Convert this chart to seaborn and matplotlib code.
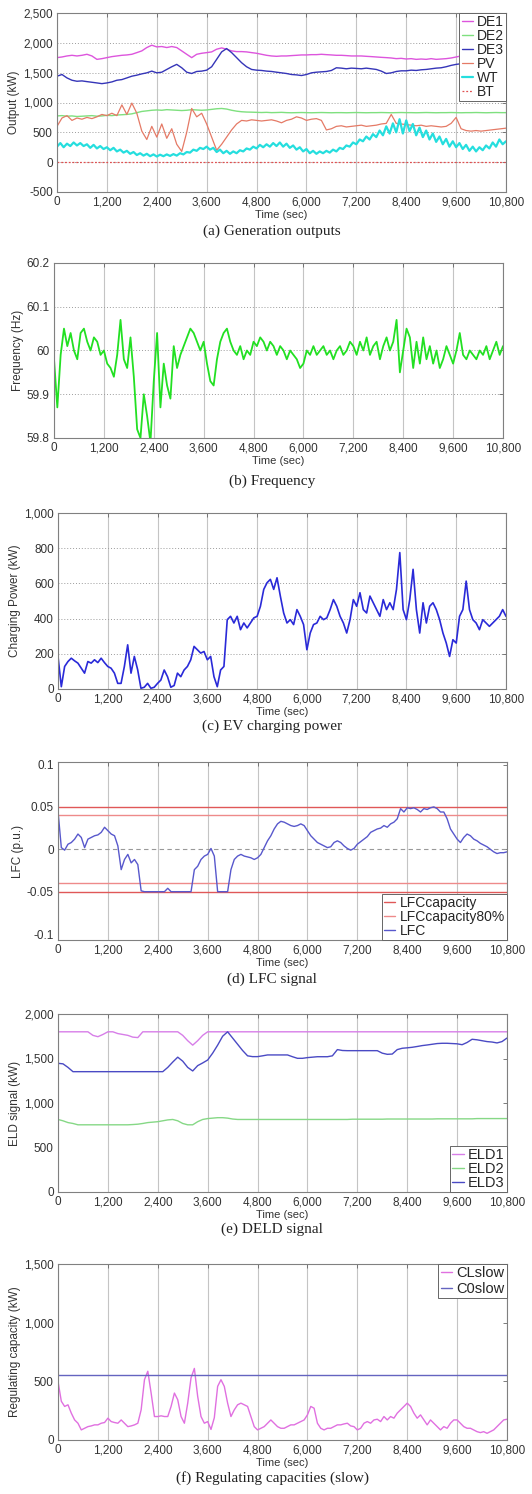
import numpy as np
import pandas as pd
import matplotlib
matplotlib.use("Agg")
import matplotlib.pyplot as plt
from matplotlib.ticker import FuncFormatter
import seaborn as sns

sns.set_style("white")
plt.rcParams["font.family"] = ["Liberation Sans", "DejaVu Sans"]

W, H = 532, 1494

# time grids (sec)
t80 = np.arange(0, 10801, 80)
t120 = np.arange(0, 10801, 120)

# (a) generation outputs, kW
de1 = [1752, 1763, 1780, 1791, 1780, 1791, 1808, 1780, 1723, 1735,
       1752, 1769, 1780, 1791, 1797, 1808, 1836, 1865, 1921, 1960,
       1932, 1938, 1921, 1938, 1921, 1865, 1808, 1752, 1808, 1825,
       1836, 1848, 1893, 1915, 1893, 1865, 1853, 1853, 1848, 1836,
       1825, 1808, 1791, 1780, 1774, 1780, 1780, 1786, 1791, 1797,
       1797, 1802, 1802, 1808, 1802, 1797, 1791, 1791, 1786, 1780,
       1780, 1780, 1774, 1769, 1763, 1757, 1752, 1746, 1735, 1740,
       1729, 1735, 1723, 1729, 1723, 1735, 1723, 1729, 1735, 1746,
       1763, 1780, 1780, 1791, 1791, 1780, 1786, 1791, 1797, 1791, 1791]
de2 = [775, 780, 770, 775, 765, 770, 775, 780, 770, 775, 785, 780, 790, 795, 800, 810, 830,
       850, 860, 870, 875, 870, 880, 875, 870, 865, 870, 880, 875, 870, 875, 885, 895, 900,
       890, 870, 855, 845, 840, 838, 835, 832, 835, 830, 832, 835, 830, 828, 830, 832, 830,
       828, 830, 832, 830, 828, 830, 830, 828, 830, 832, 830, 828, 830, 830, 832, 830, 828,
       830, 832, 830, 830, 828, 830, 832, 830, 828, 830, 830, 832, 830, 828, 830, 830, 832,
       830, 828, 830, 832, 830, 830]
de3 = [1441, 1469, 1412, 1373, 1356, 1362, 1350, 1339, 1328, 1316,
       1328, 1345, 1373, 1384, 1412, 1441, 1458, 1480, 1497, 1526,
       1497, 1508, 1554, 1599, 1639, 1582, 1508, 1486, 1520, 1526,
       1542, 1599, 1723, 1848, 1904, 1836, 1752, 1667, 1599, 1554,
       1542, 1537, 1526, 1520, 1508, 1497, 1486, 1469, 1463, 1452,
       1469, 1497, 1508, 1514, 1520, 1537, 1582, 1576, 1565, 1576,
       1571, 1565, 1576, 1565, 1554, 1526, 1486, 1497, 1520, 1531,
       1531, 1542, 1537, 1548, 1554, 1565, 1576, 1582, 1599, 1622,
       1639, 1650, 1656, 1667, 1667, 1678, 1667, 1678, 1689, 1678, 1695]
pv = [600, 740, 780, 700, 740, 720, 750, 730, 760, 800,
      780, 820, 780, 960, 800, 990, 820, 520, 380, 600,
      420, 640, 400, 560, 300, 180, 500, 900, 760, 820,
      640, 420, 200, 300, 420, 540, 640, 700, 690, 710,
      700, 690, 700, 710, 690, 660, 700, 720, 760, 740,
      700, 720, 730, 700, 540, 560, 600, 610, 590, 600,
      610, 620, 600, 610, 620, 640, 650, 800, 650, 640,
      630, 620, 610, 620, 600, 610, 600, 590, 600, 650,
      750, 560, 530, 520, 530, 520, 530, 540, 550, 560, 570]
wt = [260, 320, 250, 310, 270, 330, 280, 320,
      270, 300, 240, 290, 230, 270, 220, 250,
      200, 240, 180, 210, 160, 190, 140, 170,
      120, 150, 110, 140, 100, 130, 95, 125,
      100, 130, 105, 135, 110, 150, 130, 170,
      160, 210, 190, 240, 220, 260, 210, 240,
      170, 210, 150, 190, 140, 180, 150, 200,
      180, 230, 210, 260, 230, 290, 250, 300,
      260, 320, 270, 330, 260, 310, 240, 280,
      210, 250, 180, 220, 150, 190, 140, 180,
      150, 190, 160, 210, 180, 240, 220, 280,
      260, 330, 300, 380, 350, 430, 380, 470,
      420, 530, 450, 600, 480, 650, 500, 720,
      480, 700, 520, 640, 450, 580, 420, 530,
      380, 480, 340, 430, 300, 390, 260, 350,
      250, 320, 220, 290, 190, 260, 180, 250,
      200, 280, 230, 330, 260, 380, 300, 350]
bt_t = [0, 10800]
bt = [0, 0]

# (b) frequency, Hz
freq = [59.98, 59.87, 59.99, 60.05, 60.01, 60.04, 60.00, 59.98, 60.04, 60.05,
        60.02, 60.00, 60.03, 60.02, 59.99, 60.00, 59.97, 59.96, 59.94, 59.99,
        60.07, 59.98, 59.96, 60.03, 59.94, 59.82, 59.80, 59.90, 59.85, 59.79,
        59.93, 60.04, 59.87, 59.97, 59.92, 59.89, 60.01, 59.96, 59.99, 60.01,
        60.03, 60.05, 60.04, 60.02, 60.00, 60.02, 59.97, 59.93, 59.92, 59.98,
        60.02, 60.04, 60.05, 60.02, 60.00, 59.99, 60.01, 59.98, 60.00, 59.99,
        60.02, 60.01, 60.03, 60.02, 60.00, 60.02, 60.01, 59.99, 60.01, 60.00,
        59.98, 60.00, 59.99, 59.98, 59.96, 59.97, 60.00, 59.99, 60.01, 59.99,
        60.00, 60.01, 59.99, 60.00, 59.98, 60.00, 60.01, 59.99, 60.00, 60.02,
        60.01, 59.99, 60.02, 60.00, 60.03, 59.99, 60.01, 60.02, 59.98, 60.01,
        60.03, 60.00, 60.02, 60.07, 59.95, 60.00, 60.05, 60.03, 59.96, 60.02,
        59.97, 60.03, 59.98, 60.01, 59.97, 60.00, 59.96, 59.98, 60.01, 59.99,
        59.97, 60.00, 60.04, 59.99, 59.98, 60.00, 59.99, 59.98, 60.00, 59.99,
        60.01, 59.98, 60.00, 60.02, 59.99, 60.01]

# (c) EV charging power, kW
ev = [185, 13, 128, 156, 175, 160, 147, 118, 90, 156,
      147, 166, 150, 175, 150, 128, 118, 90, 32, 32,
      128, 251, 90, 185, 110, 4, 10, 32, 4, 10,
      32, 51, 108, 70, 10, 20, 90, 70, 108, 128,
      166, 242, 223, 204, 213, 166, 185, 70, 13, 108,
      128, 394, 413, 375, 413, 337, 375, 347, 375, 404,
      413, 470, 566, 604, 623, 566, 632, 528, 432, 375,
      394, 366, 451, 413, 366, 223, 318, 366, 375, 413,
      394, 404, 451, 508, 470, 413, 375, 318, 394, 508,
      470, 547, 451, 432, 528, 490, 451, 413, 508, 451,
      490, 451, 566, 775, 451, 394, 508, 680, 451, 318,
      490, 375, 470, 490, 451, 394, 318, 261, 185, 280,
      261, 413, 451, 613, 451, 394, 375, 337, 394, 375,
      356, 375, 394, 413, 451, 413]

# (d) LFC signal, p.u.
lfc = [0.045, 0.002, -0.001, 0.006, 0.008, 0.012, 0.018, 0.014, 0.002, 0.012,
       0.014, 0.016, 0.017, 0.020, 0.026, 0.022, 0.018, 0.016, 0.004, -0.024,
       -0.012, -0.006, -0.016, -0.012, -0.018, -0.049, -0.05, -0.05, -0.05, -0.05,
       -0.05, -0.05, -0.05, -0.046, -0.05, -0.05, -0.05, -0.05, -0.05, -0.05,
       -0.05, -0.024, -0.020, -0.012, -0.008, -0.006, 0.001, -0.008, -0.05, -0.05,
       -0.05, -0.05, -0.024, -0.012, -0.008, -0.006, -0.008, -0.009, -0.010, -0.012,
       -0.010, -0.006, 0.002, 0.010, 0.016, 0.024, 0.030, 0.033, 0.032, 0.030,
       0.028, 0.027, 0.028, 0.030, 0.028, 0.022, 0.016, 0.012, 0.008, 0.006,
       0.004, 0.002, 0.003, 0.008, 0.010, 0.008, 0.004, 0.001, -0.001, 0.001,
       0.006, 0.009, 0.012, 0.015, 0.020, 0.022, 0.024, 0.025, 0.028, 0.026,
       0.030, 0.032, 0.036, 0.048, 0.044, 0.049, 0.048, 0.049, 0.047, 0.044,
       0.048, 0.047, 0.049, 0.050, 0.048, 0.044, 0.044, 0.036, 0.024, 0.018,
       0.012, 0.008, 0.014, 0.018, 0.016, 0.012, 0.010, 0.007, 0.005, 0.003,
       0.000, -0.003, -0.005, -0.004, -0.004, -0.003]
lfc_cap = 0.05
lfc_cap80 = 0.04

# (e) DELD signal, kW
eld1 = [1800, 1800, 1800, 1800, 1800, 1800, 1800, 1760, 1745, 1770,
        1800, 1800, 1780, 1770, 1760, 1740, 1735, 1800, 1800, 1800,
        1800, 1800, 1800, 1800, 1800, 1760, 1700, 1650, 1700, 1760,
        1800, 1800, 1800, 1800, 1800, 1800, 1800, 1800, 1800, 1800,
        1800, 1800, 1800, 1800, 1800, 1800, 1800, 1800, 1800, 1800,
        1800, 1800, 1800, 1800, 1800, 1800, 1800, 1800, 1800, 1800,
        1800, 1800, 1800, 1800, 1800, 1800, 1800, 1800, 1800, 1800,
        1800, 1800, 1800, 1800, 1800, 1800, 1800, 1800, 1800, 1800,
        1800, 1800, 1800, 1800, 1800, 1800, 1800, 1800, 1800, 1800, 1800]
eld2 = [815, 800, 780, 770, 755, 755, 755, 755, 755, 755,
        755, 755, 755, 755, 755, 758, 762, 770, 780, 785,
        790, 800, 810, 815, 800, 770, 755, 755, 790, 815,
        825, 830, 835, 835, 830, 820, 815, 815, 815, 815,
        815, 815, 815, 815, 815, 815, 815, 815, 815, 815,
        815, 815, 815, 815, 815, 815, 815, 815, 815, 818,
        818, 818, 818, 818, 818, 818, 820, 820, 820, 820,
        820, 820, 820, 820, 820, 820, 822, 822, 822, 822,
        822, 822, 822, 822, 825, 825, 825, 825, 825, 825, 825]
eld3 = [1446, 1440, 1400, 1352, 1352, 1352, 1352, 1352, 1352, 1352,
        1352, 1352, 1352, 1352, 1352, 1352, 1352, 1352, 1352, 1352,
        1352, 1352, 1400, 1460, 1515, 1470, 1400, 1360, 1420, 1450,
        1483, 1560, 1650, 1750, 1800, 1730, 1660, 1590, 1530, 1521,
        1521, 1530, 1540, 1540, 1540, 1540, 1540, 1520, 1502, 1502,
        1510, 1515, 1520, 1520, 1520, 1530, 1600, 1590, 1588, 1588,
        1588, 1588, 1588, 1588, 1588, 1560, 1547, 1550, 1600, 1615,
        1620, 1626, 1635, 1645, 1652, 1660, 1668, 1671, 1671, 1668,
        1665, 1655, 1680, 1716, 1710, 1700, 1690, 1685, 1675, 1690, 1730]

# (f) regulating capacities (slow), kW
cl_slow = [500, 330, 286, 300, 229, 171, 143, 86, 100, 114,
           120, 129, 129, 143, 149, 186, 157, 149, 143, 171,
           143, 114, 120, 129, 143, 257, 514, 586, 400, 200,
           200, 206, 200, 200, 286, 400, 343, 200, 143, 314,
           530, 610, 371, 200, 143, 157, 90, 190, 457, 514,
           457, 314, 200, 257, 300, 314, 300, 286, 200, 114,
           86, 100, 114, 143, 171, 143, 114, 100, 100, 114,
           129, 129, 143, 157, 171, 214, 286, 271, 143, 100,
           86, 100, 100, 114, 129, 129, 137, 143, 120, 114,
           86, 100, 143, 157, 143, 171, 177, 157, 200, 171,
           200, 186, 229, 257, 286, 314, 286, 229, 186, 214,
           171, 129, 171, 143, 114, 86, 114, 100, 143, 171,
           171, 143, 114, 100, 100, 86, 71, 63, 71, 57,
           71, 86, 114, 143, 171, 177]
c0_slow_t = [0, 10800]
c0_slow = [550, 550]

x_ticks = list(range(0, 10801, 1200))


def comma_fmt(v, pos):
    return "{:,.0f}".format(v)


def plain_fmt(v, pos):
    return "{:g}".format(round(v, 3))


def add_panel(fig, left, top, right, bottom):
    return fig.add_axes([left / W, 1 - bottom / H, (right - left) / W, (bottom - top) / H])


def style_panel(ax, ylim, yticks, yfmt, ylabel, hgrid=True):
    ax.set_xlim(0, 10800)
    ax.set_xticks(x_ticks)
    ax.xaxis.set_major_formatter(FuncFormatter(comma_fmt))
    ax.set_ylim(*ylim)
    ax.set_yticks(yticks)
    ax.yaxis.set_major_formatter(FuncFormatter(yfmt))
    ax.xaxis.grid(True, color="#c4c4c4", lw=0.8, ls="-")
    if hgrid:
        ax.yaxis.grid(True, color="#9c9c9c", lw=0.7, ls=(0, (1, 2)))
    else:
        ax.yaxis.grid(False)
    ax.set_axisbelow(True)
    for s in ax.spines.values():
        s.set_color("#808080")
        s.set_linewidth(0.8)
    ax.tick_params(direction="in", length=3, width=0.6, color="#666666",
                   labelsize=8.5, labelcolor="#333333", pad=3, top=True, right=True)
    ax.set_xlabel("Time (sec)", fontsize=8, labelpad=1, color="#333333")
    ax.set_ylabel(ylabel, fontsize=8.5, labelpad=2, color="#333333")


def legend(ax, loc, fs, spacing=0.05):
    lg = ax.legend(loc=loc, frameon=True, fancybox=False, framealpha=1, edgecolor="#666666",
                   borderaxespad=0, fontsize=fs, handlelength=0.8, handletextpad=0.3,
                   labelspacing=spacing, borderpad=0.15)
    lg.get_frame().set_linewidth(0.7)
    return lg


def caption(fig, y, text):
    fig.text(272 / W, 1 - y / H, text, ha="center", va="center",
             family=["Liberation Serif", "DejaVu Serif"], fontsize=11, color="#222222")


fig = plt.figure(figsize=(W / 100, H / 100), dpi=100)

# (a)
ax = add_panel(fig, 57, 13, 506, 192)
df_a = pd.DataFrame({"t": t120, "DE1": de1, "DE2": de2, "DE3": de3, "PV": pv})
sns.lineplot(data=df_a, x="t", y="DE1", ax=ax, color="#dd55dd", lw=1.0, label="DE1")
sns.lineplot(data=df_a, x="t", y="DE2", ax=ax, color="#7fe07f", lw=1.0, label="DE2")
sns.lineplot(data=df_a, x="t", y="DE3", ax=ax, color="#3535b8", lw=1.0, label="DE3")
sns.lineplot(data=df_a, x="t", y="PV", ax=ax, color="#e57a66", lw=0.9, label="PV")
sns.lineplot(x=t80, y=wt, ax=ax, color="#25dede", lw=1.6, label="WT")
sns.lineplot(x=bt_t, y=bt, ax=ax, color="#e05050", lw=0.9, ls=(0, (1.5, 1.5)), label="BT")
style_panel(ax, (-500, 2500), [-500, 0, 500, 1000, 1500, 2000, 2500], comma_fmt, "Output (kW)")
legend(ax, "upper right", 10, spacing=0.0)
caption(fig, 231, "(a) Generation outputs")

# (b)
ax = add_panel(fig, 54, 263, 503, 438)
sns.lineplot(x=t80, y=freq, ax=ax, color="#22e022", lw=1.3)
style_panel(ax, (59.8, 60.2), [59.8, 59.9, 60.0, 60.1, 60.2], plain_fmt, "Frequency (Hz)")
caption(fig, 481, "(b) Frequency")

# (c)
ax = add_panel(fig, 58, 513, 506, 689)
sns.lineplot(x=t80, y=ev, ax=ax, color="#2a2ad8", lw=1.2)
style_panel(ax, (0, 1000), [0, 200, 400, 600, 800, 1000], comma_fmt, "Charging Power (kW)")
caption(fig, 726, "(c) EV charging power")

# (d)
ax = add_panel(fig, 58, 762, 507, 940)
ax.axhline(0, color="#999999", lw=0.8, ls=(0, (4, 3)))
sns.lineplot(x=[0, 10800], y=[lfc_cap, lfc_cap], ax=ax, color="#e05858", lw=1.0, label="LFCcapacity")
sns.lineplot(x=[0, 10800], y=[-lfc_cap, -lfc_cap], ax=ax, color="#e05858", lw=1.0, label="_nolegend_")
sns.lineplot(x=[0, 10800], y=[lfc_cap80, lfc_cap80], ax=ax, color="#ee8a8a", lw=1.0, label="LFCcapacity80%")
sns.lineplot(x=[0, 10800], y=[-lfc_cap80, -lfc_cap80], ax=ax, color="#ee8a8a", lw=1.0, label="_nolegend_")
sns.lineplot(x=t80, y=lfc, ax=ax, color="#5858cc", lw=1.0, label="LFC")
style_panel(ax, (-0.107, 0.103), [-0.1, -0.05, 0, 0.05, 0.1], plain_fmt, "LFC (p.u.)", hgrid=False)
legend(ax, "lower right", 10, spacing=0.0)
caption(fig, 979, "(d) LFC signal")

# (e)
ax = add_panel(fig, 58, 1014, 507, 1192)
df_e = pd.DataFrame({"t": t120, "ELD1": eld1, "ELD2": eld2, "ELD3": eld3})
sns.lineplot(data=df_e, x="t", y="ELD1", ax=ax, color="#d77ee8", lw=1.0, label="ELD1")
sns.lineplot(data=df_e, x="t", y="ELD2", ax=ax, color="#86d886", lw=1.0, label="ELD2")
sns.lineplot(data=df_e, x="t", y="ELD3", ax=ax, color="#4a4ac4", lw=1.0, label="ELD3")
style_panel(ax, (0, 2000), [0, 500, 1000, 1500, 2000], comma_fmt, "ELD signal (kW)", hgrid=False)
legend(ax, "lower right", 10.5, spacing=0.0)
caption(fig, 1229, "(e) DELD signal")

# (f)
ax = add_panel(fig, 58, 1264, 507, 1440)
sns.lineplot(x=t80, y=cl_slow, ax=ax, color="#e070e0", lw=1.0, label="CLslow")
sns.lineplot(x=c0_slow_t, y=c0_slow, ax=ax, color="#6464c0", lw=1.0, label="C0slow")
style_panel(ax, (0, 1500), [0, 500, 1000, 1500], comma_fmt, "Regulating capacity (kW)", hgrid=False)
legend(ax, "upper right", 10.5, spacing=0.1)
caption(fig, 1478, "(f) Regulating capacities (slow)")

fig.savefig("out.png", dpi=100)
